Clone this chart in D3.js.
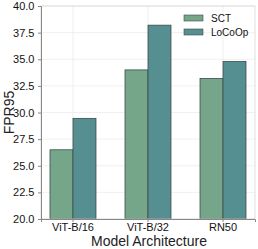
<!DOCTYPE html>
<html>
<head>
<meta charset="utf-8">
<script src="https://cdn.jsdelivr.net/npm/d3@7"></script>
<style>
  body { margin: 0; background: #fff; }
  text { font-family: "Liberation Sans", Arial, sans-serif; }
</style>
</head>
<body>
<svg width="258" height="249"></svg>
<script>
const categories = ["ViT-B/16", "ViT-B/32", "RN50"];
const seriesNames = ["SCT", "LoCoOp"];
const sct = [26.5, 34.0, 33.2];
const locoop = [29.45, 38.2, 34.8];
const yTicks = [20.0, 22.5, 25.0, 27.5, 30.0, 32.5, 35.0, 37.5, 40.0];
const colors = ["#76a68a", "#558f91"];

const svg = d3.select("svg");
const m = { left: 41, right: 3, top: 6, bottom: 30 };
const W = 258, H = 249;

const x = d3.scaleBand().domain(categories)
  .range([m.left, W - m.right])
  .paddingInner(0.387).paddingOuter(0.12);
const x1 = d3.scaleBand().domain(seriesNames).range([0, x.bandwidth()]);
const y = d3.scaleLinear().domain([20, 40]).range([H - m.bottom, m.top]);

// grid
svg.append("g").selectAll("line").data(yTicks).join("line")
  .attr("x1", m.left).attr("x2", W - m.right)
  .attr("y1", d => y(d)).attr("y2", d => y(d))
  .attr("stroke", "#ececec").attr("stroke-width", 0.8);
svg.append("g").selectAll("line").data(categories).join("line")
  .attr("x1", d => x(d) + x.bandwidth() / 2).attr("x2", d => x(d) + x.bandwidth() / 2)
  .attr("y1", m.top).attr("y2", H - m.bottom)
  .attr("stroke", "#ececec").attr("stroke-width", 0.8);

// bars
const rows = categories.map((c, i) => ({ c, vals: [sct[i], locoop[i]] }));
svg.append("g").selectAll("g").data(rows).join("g")
  .attr("transform", d => `translate(${x(d.c)},0)`)
  .selectAll("rect").data(d => d.vals.map((v, j) => ({ v, s: seriesNames[j], j })))
  .join("rect")
  .attr("x", d => x1(d.s))
  .attr("width", x1.bandwidth())
  .attr("y", d => y(d.v))
  .attr("height", d => y(20) - y(d.v))
  .attr("fill", d => colors[d.j])
  .attr("stroke", "#3d4b4a").attr("stroke-width", 0.8);

// frame
svg.append("rect").attr("x", m.left).attr("y", m.top)
  .attr("width", W - m.right - m.left).attr("height", H - m.bottom - m.top)
  .attr("fill", "none").attr("stroke", "#d8d8d8").attr("stroke-width", 0.8);

// axes
const yAxis = svg.append("g").attr("transform", `translate(${m.left},0)`)
  .call(d3.axisLeft(y).tickValues(yTicks).tickFormat(d3.format(".1f")).tickSize(3));
const xAxis = svg.append("g").attr("transform", `translate(0,${H - m.bottom})`)
  .call(d3.axisBottom(x).tickSize(3));
[yAxis, xAxis].forEach(a => {
  a.select(".domain").attr("stroke", "#888");
  a.selectAll(".tick line").attr("stroke", "#888");
  a.selectAll("text").attr("fill", "#111").attr("font-size", 11)
    .attr("font-family", "Liberation Sans, Arial, sans-serif");
});
yAxis.selectAll("text").attr("dx", "-0.05em");
xAxis.selectAll("text").attr("dy", "0.5em");

// labels
svg.append("text").attr("x", (m.left + W - m.right) / 2 + 1).attr("y", 246)
  .attr("text-anchor", "middle").attr("font-size", 14).attr("fill", "#222")
  .text("Model Architecture");
svg.append("text").attr("transform", `translate(14,${(m.top + H - m.bottom) / 2}) rotate(-90)`)
  .attr("text-anchor", "middle").attr("font-size", 14).attr("fill", "#222")
  .text("FPR95");

// legend
const lg = svg.append("g").attr("transform", "translate(184,15)");
seriesNames.forEach((s, i) => {
  lg.append("rect").attr("x", 0).attr("y", i * 14).attr("width", 19).attr("height", 6)
    .attr("fill", colors[i]).attr("stroke", "#3d4b4a").attr("stroke-width", 0.6);
  lg.append("text").attr("x", 27).attr("y", i * 14 + 3).attr("dy", "0.35em")
    .attr("font-size", 10).attr("fill", "#111").text(s);
});
</script>
</body>
</html>
